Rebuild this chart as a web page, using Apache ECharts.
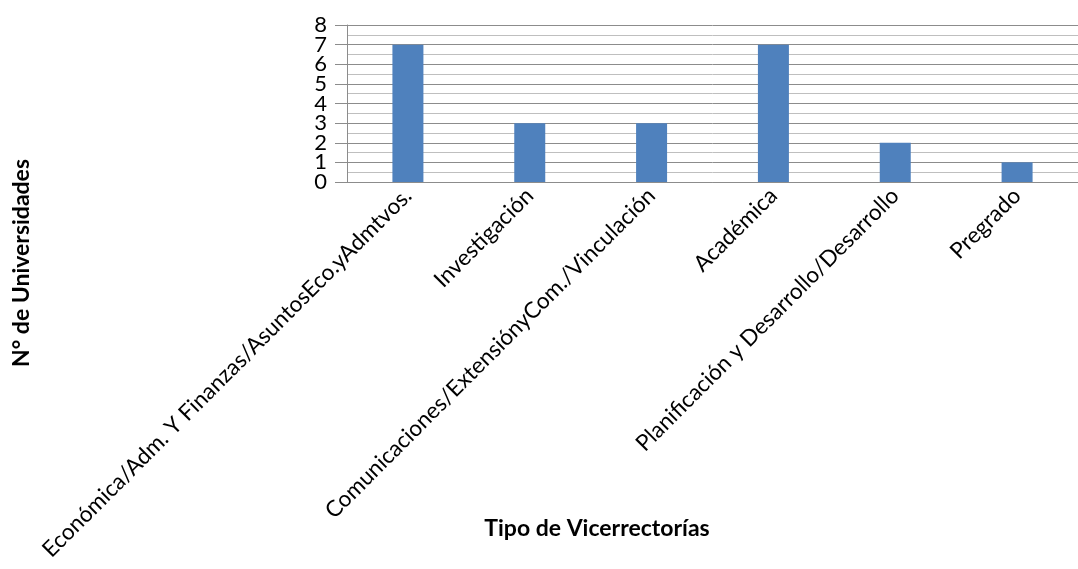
<!DOCTYPE html>
<html>
<head>
<meta charset="utf-8">
<script src="https://cdn.jsdelivr.net/npm/echarts@6/dist/echarts.min.js"></script>
<style>
  html, body { margin: 0; padding: 0; background: #ffffff; }
  #chart { width: 1078px; height: 569px; }
</style>
</head>
<body>
<div id="chart"></div>
<script>
// Vicerrectorías por tipo
const categories = [
  'Económica/Adm. Y Finanzas/AsuntosEco.yAdmtvos.',
  'Investigación',
  'Comunicaciones/ExtensiónyCom./Vinculación',
  'Académica',
  'Planificación y Desarrollo/Desarrollo',
  'Pregrado'
];
const universidades = [7, 3, 3, 7, 2, 1];
const yTicks = [0, 1, 2, 3, 4, 5, 6, 7, 8];
const xTitle = 'Tipo de Vicerrectorías';
const yTitle = 'N° de Universidades';

const font = 'Lato, "Open Sans", sans-serif';

const chart = echarts.init(document.getElementById('chart'), null, { renderer: 'canvas' });
chart.setOption({
  animation: false,
  backgroundColor: '#ffffff',
  grid: { left: 347, right: -11, top: 25, height: 157, containLabel: false },
  xAxis: {
    type: 'category',
    data: categories,
    axisLine: { show: true, lineStyle: { color: '#8c8c8c', width: 1 } },
    axisTick: { show: false },
    axisLabel: {
      interval: 0,
      rotate: 45,
      margin: 10,
      color: '#000000',
      fontFamily: font,
      fontSize: 22.5
    },
    splitLine: { show: false }
  },
  yAxis: [{
    // value scale: gridlines, ticks and bars
    type: 'value',
    min: yTicks[0],
    max: yTicks[yTicks.length - 1],
    interval: 1,
    axisLine: { show: true, lineStyle: { color: '#8c8c8c', width: 1 } },
    axisTick: { show: true, length: 12, lineStyle: { color: '#8c8c8c', width: 1 } },
    axisLabel: { show: false },
    splitLine: { show: true, lineStyle: { color: '#8c8c8c', width: 1 } },
    minorTick: { show: false, splitNumber: 2 },
    minorSplitLine: { show: true, lineStyle: { color: '#bfbfbf', width: 1 } }
  }, {
    // tick labels 0..8, one per integer step
    type: 'category',
    position: 'left',
    data: yTicks.map(String),
    boundaryGap: false,
    axisLine: { show: false },
    axisTick: { show: false },
    splitLine: { show: false },
    axisLabel: {
      interval: 0,
      margin: 20,
      showMinLabel: true,
      showMaxLabel: true,
      color: '#000000',
      fontFamily: font,
      fontSize: 22
    }
  }],
  series: [{
    type: 'bar',
    data: universidades,
    barWidth: 31,
    yAxisIndex: 0,
    itemStyle: { color: '#4f81bd' }
  }],
  graphic: [{
    type: 'text',
    x: 597,
    y: 529,
    style: {
      text: xTitle,
      fontFamily: font,
      fontSize: 23,
      fontWeight: 'bold',
      fill: '#000000',
      align: 'center',
      verticalAlign: 'middle'
    }
  }, {
    type: 'text',
    x: 22,
    y: 263,
    rotation: Math.PI / 2,
    style: {
      text: yTitle,
      fontFamily: font,
      fontSize: 23,
      fontWeight: 'bold',
      fill: '#000000',
      align: 'center',
      verticalAlign: 'middle'
    }
  }]
});
</script>
</body>
</html>
